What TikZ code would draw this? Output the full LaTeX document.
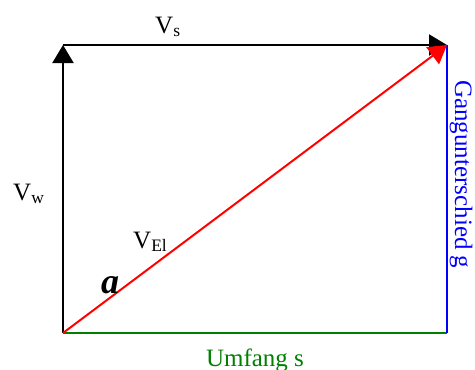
\documentclass[tikz,border=0pt]{standalone}
\usepackage{fontspec}
\setmainfont{Liberation Serif}
\usetikzlibrary{arrows.meta}
\definecolor{dgreen}{RGB}{0,128,0}
\begin{document}
\begin{tikzpicture}[x=1pt,y=-1pt,
  vec/.style={line width=2pt},
  tip/.style={-{Triangle[length=18pt,width=21pt]}},
  lbl/.style={inner sep=0pt,font=\fontsize{25}{28}\selectfont}]
\useasboundingbox (0,0) rectangle (475,370);
\coordinate (A) at (63,333);
\coordinate (B) at (63,45);
\coordinate (C) at (447,45);
\coordinate (D) at (447,333);
\draw[vec,dgreen] (A) -- (D);
\draw[vec,blue] (D) -- (C);
\draw[vec,black,tip] (A) -- (B);
\draw[vec,black,tip] (B) -- (C);
\draw[vec,red,tip] (A) -- (C);
\node[lbl,anchor=base west] (vs) at (155,33) {V\textsubscript{s}};
\node[lbl,anchor=base west] (vw) at (13,200) {V\textsubscript{w}};
\node[lbl,anchor=base west] (vel) at (133,248) {V\textsubscript{El}};
\node[inner sep=0pt,anchor=base west,font=\fontsize{36}{40}\selectfont\bfseries\itshape] (al) at (101,293) {a};
\node[lbl,anchor=base,text=dgreen] (um) at (255,366) {Umfang s};
\node[lbl,anchor=base west,rotate=-90,text=blue] (gg) at (455,80) {Gangunterschied g};
\end{tikzpicture}
\end{document}
